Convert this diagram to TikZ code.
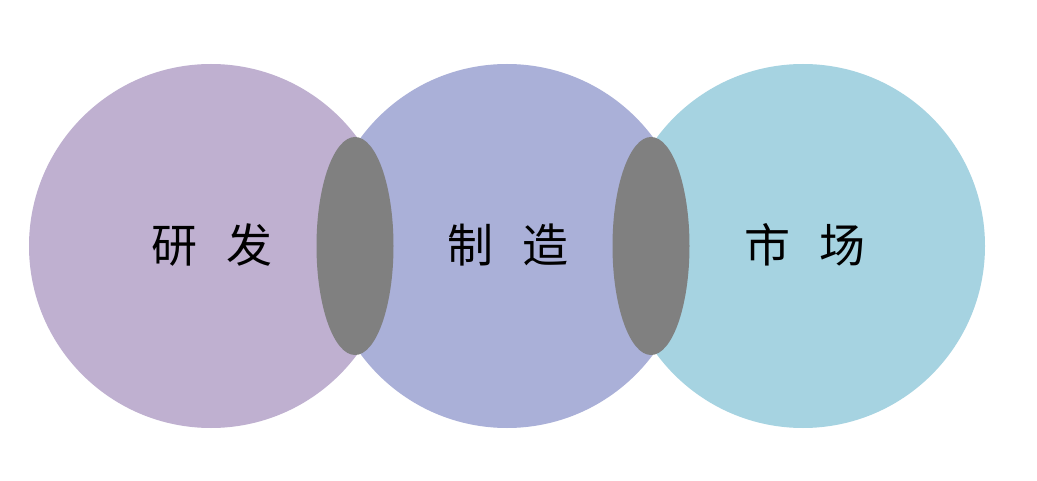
\documentclass[tikz,border=0pt]{standalone}
\usepackage{fontspec}
\newfontfamily\cjk{Noto Sans CJK SC}
\definecolor{cA}{RGB}{191,176,208}
\definecolor{cB}{RGB}{170,176,216}
\definecolor{cC}{RGB}{166,211,225}
\definecolor{cG}{RGB}{128,128,128}
\tikzset{
  ring/.style={circle, minimum size=364pt, inner sep=0pt, draw=none},
  lens/.style={ellipse, minimum width=77pt, minimum height=218pt, inner sep=0pt, fill=cG, draw=none},
  label/.style={font=\cjk\fontsize{46pt}{50pt}\selectfont, text=black, inner sep=0pt},
}
\usetikzlibrary{shapes.geometric}
\begin{document}
\begin{tikzpicture}[x=1pt,y=-1pt]
\useasboundingbox[fill=white] (0,0) rectangle (1037,481);
\node[ring, fill=cA] (rd) at (211,246) {};
\node[ring, fill=cB] (mf) at (507,246) {};
\node[ring, fill=cC] (mk) at (803,246) {};
\node[lens] (l1) at (355,246) {};
\node[lens] (l2) at (651,246) {};
\node[label] (t1) at (212,245) {研\hspace{30pt}发};
\node[label] (t2) at (508,245) {制\hspace{30pt}造};
\node[label] (t3) at (805,245) {市\hspace{30pt}场};
\end{tikzpicture}
\end{document}
